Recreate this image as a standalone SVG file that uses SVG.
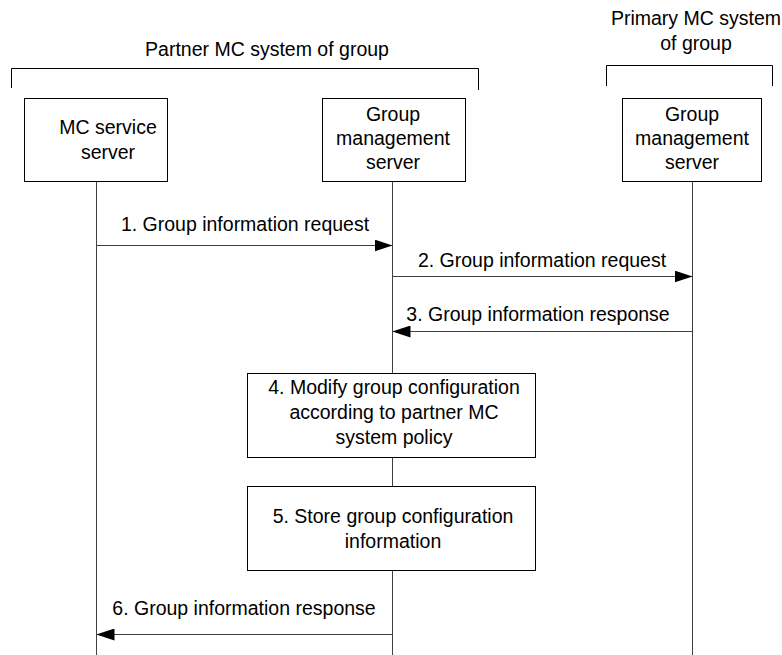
<svg xmlns="http://www.w3.org/2000/svg" width="782" height="655" viewBox="0 0 782 655">
<style>
text{font-family:"Liberation Sans",Arial,sans-serif;font-size:19.5px;fill:#000;text-anchor:middle}
.box{fill:#fff;stroke:#000;stroke-width:1}
.life{stroke:#404040;stroke-width:1;fill:none}
.msg{stroke:#404040;stroke-width:1;fill:none}
.br{stroke:#000;stroke-width:1;fill:none}
</style>
<defs>
<marker id="ah" viewBox="0 0 18 12" refX="18" refY="6" markerWidth="18" markerHeight="12" markerUnits="userSpaceOnUse" orient="auto">
<path d="M0,0 L18,6 L0,12 Z" fill="#000"/>
</marker>
</defs>
<rect width="782" height="655" fill="#fff"/>
<g id="partner-system">
<text x="267" y="56">Partner MC system of group</text>
<path class="br" d="M11.5,88 V68.5 H478.5 V90"/>
</g>
<g id="primary-system">
<text x="696" y="25">Primary MC system</text>
<text x="696" y="50">of group</text>
<path class="br" d="M606.5,86 V65.5 H772.5 V86"/>
</g>
<g id="lifelines">
<line class="life" x1="96.5" y1="181" x2="96.5" y2="655"/>
<line class="life" x1="392.5" y1="181" x2="392.5" y2="655"/>
<line class="life" x1="692.5" y1="181" x2="692.5" y2="655"/>
</g>
<g id="mc-service-server">
<rect class="box" x="24.5" y="98.5" width="143" height="83"/>
<text x="108" y="134">MC service</text>
<text x="108" y="159">server</text>
</g>
<g id="gms-partner">
<rect class="box" x="322.5" y="98.5" width="143" height="83"/>
<text x="393" y="121">Group</text>
<text x="393" y="145">management</text>
<text x="393" y="169">server</text>
</g>
<g id="gms-primary">
<rect class="box" x="622.5" y="98.5" width="139" height="83"/>
<text x="692" y="121">Group</text>
<text x="692" y="145">management</text>
<text x="692" y="169">server</text>
</g>
<g id="step4">
<rect class="box" x="247.5" y="373.5" width="288" height="84"/>
<text x="394" y="394">4. Modify group configuration</text>
<text x="394" y="419">according to partner MC</text>
<text x="394" y="444">system policy</text>
</g>
<g id="step5">
<rect class="box" x="247.5" y="486.5" width="288" height="84"/>
<text x="393" y="523">5. Store group configuration</text>
<text x="393" y="548">information</text>
</g>
<g id="connectors">
<line class="msg" x1="96.5" y1="245.5" x2="392.5" y2="245.5" marker-end="url(#ah)"/>
<text x="245" y="231">1. Group information request</text>
<line class="msg" x1="392.5" y1="276.5" x2="692.5" y2="276.5" marker-end="url(#ah)"/>
<text x="542" y="267">2. Group information request</text>
<line class="msg" x1="692.5" y1="331.5" x2="392.5" y2="331.5" marker-end="url(#ah)"/>
<text x="538" y="321">3. Group information response</text>
<line class="msg" x1="392.5" y1="634.5" x2="96.5" y2="634.5" marker-end="url(#ah)"/>
<text x="244" y="615">6. Group information response</text>
</g>
</svg>
